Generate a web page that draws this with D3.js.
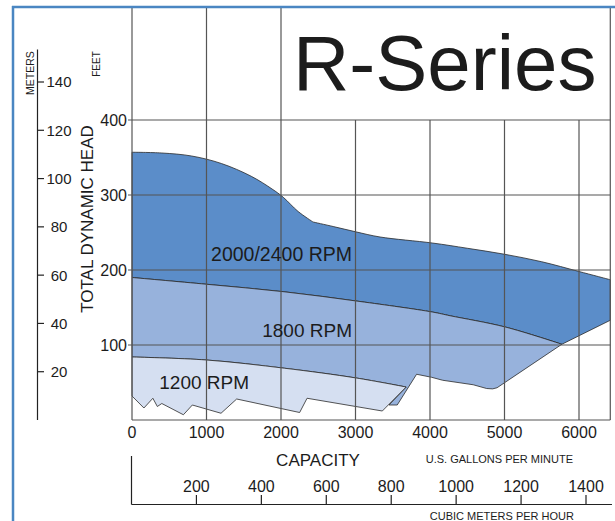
<!DOCTYPE html>
<html>
<head>
<meta charset="utf-8">
<script src="https://cdn.jsdelivr.net/npm/d3@7"></script>
<style>
  body { margin: 0; background: #fff; }
  text { font-family: "Liberation Sans", Arial, sans-serif; fill: #1c1c1c; }
</style>
</head>
<body>
<div id="chart"></div>
<script>
// tick values
const feetTicks = [100, 200, 300, 400];
const meterTicks = [20, 40, 60, 80, 100, 120, 140];
const gpmTicks = [0, 1000, 2000, 3000, 4000, 5000, 6000];
const m3hTicks = [200, 400, 600, 800, 1000, 1200, 1400];

// curves, [gpm, feet]
const top2400a = [[0, 357], [400, 356], [800, 352], [1200, 342], [1600, 325], [1880, 308],
  [2030, 297], [2230, 278], [2430, 264]];
const top2400b = [[2430, 264], [2700, 258], [3000, 251], [3330, 244],
  [4030, 236], [4500, 229], [5000, 221], [5500, 211], [6000, 198], [6420, 187]];
const end2400 = [[6420, 187], [6420, 133]];
const top1800 = [[0, 190], [1000, 181], [2040, 171], [3060, 158], [4030, 144], [4270, 139],
  [5010, 124], [5770, 101]];
const bottom1800 = [[5770, 101], [4900, 43], [4840, 41.5], [4760, 42], [4580, 47], [4170, 53], [4020, 57],
  [3820, 61], [3560, 20], [3450, 20]];
const top1200 = [[0, 84], [1000, 80], [2050, 69], [3010, 56], [3680, 44]];
const bottom1200 = [[3680, 44], [3360, 12], [2350, 29], [2250, 10], [1405, 28], [1195, 9], [810, 20],
  [690, 7], [400, 22], [340, 18], [280, 29], [160, 16], [0, 32]];

const bandNames = ["2000/2400 RPM", "1800 RPM", "1200 RPM"];
const bandColors = ["#5b8dc9", "#97b2dc", "#d5dff1"];

const capMax = 6420;
const headMax = 551;

const svg = d3.select("#chart").append("svg")
  .attr("width", 615)
  .attr("height", 521);

const x = d3.scaleLinear().domain([0, 6000]).range([132, 579]);
const y = d3.scaleLinear().domain([0, 400]).range([420, 120]);
const yM = d3.scaleLinear().domain([0, 140]).range([420, 82]);
const xM = d3.scaleLinear().domain([0, 1400]).range([131.5, 586]);

const line = d3.line().x(d => x(d[0])).y(d => y(d[1]));
const smooth = d3.line().x(d => x(d[0])).y(d => y(d[1])).curve(d3.curveCatmullRom.alpha(0.5));

// joins several pieces into one closed outline
function outline(pieces) {
  return pieces.map((p, i) => i === 0 ? p : p.replace(/^M/, "L")).join("") + "Z";
}

const rev = a => a.slice().reverse();

const bands = [
  outline([smooth(top2400a), smooth(top2400b), line(end2400), line([[6420, 133], [5770, 101]]), smooth(rev(top1800))]),
  outline([smooth(top1800), line(bottom1800), line([[3450, 20], [3680, 44]]), smooth(rev(top1200))]),
  outline([smooth(top1200), line(bottom1200)])
];

svg.selectAll("path.band")
  .data(bands)
  .enter()
  .append("path")
  .attr("class", "band")
  .attr("d", d => d)
  .attr("fill", (d, i) => bandColors[i])
  .attr("stroke", "#2a2a2a")
  .attr("stroke-width", 0.8)
  .attr("stroke-linejoin", "round");

// grid
const grid = svg.append("g").attr("stroke", "#555").attr("stroke-width", 1.2);

grid.selectAll("line.h")
  .data(feetTicks)
  .enter()
  .append("line")
  .attr("x1", x(0) - 4)
  .attr("x2", x(capMax))
  .attr("y1", d => y(d))
  .attr("y2", d => y(d));

// lines right of 2000 stop under the title box
grid.selectAll("line.v")
  .data(gpmTicks.slice(1))
  .enter()
  .append("line")
  .attr("x1", d => x(d))
  .attr("x2", d => x(d))
  .attr("y1", d => d <= 2000 ? y(headMax) : y(400))
  .attr("y2", y(0));

grid.append("line")
  .attr("x1", x(0)).attr("x2", x(0))
  .attr("y1", y(headMax)).attr("y2", y(0));
grid.append("line")
  .attr("x1", x(capMax)).attr("x2", x(capMax))
  .attr("y1", y(headMax)).attr("y2", y(0));
grid.append("line")
  .attr("x1", x(0)).attr("x2", x(capMax))
  .attr("y1", y(0)).attr("y2", y(0));

// band labels
svg.append("text")
  .attr("x", x(2953)).attr("y", y(212))
  .attr("text-anchor", "end").attr("font-size", "19.5px")
  .text(bandNames[0]);
svg.append("text")
  .attr("x", x(2953)).attr("y", y(111))
  .attr("text-anchor", "end").attr("font-size", "19px")
  .text(bandNames[1]);
svg.append("text")
  .attr("x", x(366)).attr("y", y(41))
  .attr("font-size", "19px")
  .text(bandNames[2]);

// feet axis
svg.selectAll("text.feet")
  .data(feetTicks)
  .enter()
  .append("text")
  .attr("x", 127)
  .attr("y", d => y(d))
  .attr("dy", "0.36em")
  .attr("text-anchor", "end")
  .attr("font-size", "16px")
  .text(d => d);

// meters axis
svg.append("line")
  .attr("x1", 37.5).attr("x2", 37.5)
  .attr("y1", yM(153.5)).attr("y2", yM(0))
  .attr("stroke", "#222").attr("stroke-width", 1.2);

svg.selectAll("line.mtick")
  .data(meterTicks)
  .enter()
  .append("line")
  .attr("x1", 37.5).attr("x2", 44)
  .attr("y1", d => yM(d)).attr("y2", d => yM(d))
  .attr("stroke", "#222").attr("stroke-width", 1.2);

svg.selectAll("text.meter")
  .data(meterTicks)
  .enter()
  .append("text")
  .attr("x", 59)
  .attr("y", d => yM(d))
  .attr("dy", "0.36em")
  .attr("text-anchor", "middle")
  .attr("font-size", "15px")
  .text(d => d);

svg.append("text")
  .attr("transform", "translate(33.5,73) rotate(-90)")
  .attr("text-anchor", "middle").attr("font-size", "10.5px")
  .text("METERS");
svg.append("text")
  .attr("transform", "translate(100,64) rotate(-90)")
  .attr("text-anchor", "middle").attr("font-size", "10px")
  .text("FEET");
svg.append("text")
  .attr("transform", "translate(93,219) rotate(-90)")
  .attr("text-anchor", "middle").attr("font-size", "17px")
  .text("TOTAL DYNAMIC HEAD");

// gpm axis labels
svg.selectAll("text.gpm")
  .data(gpmTicks)
  .enter()
  .append("text")
  .attr("x", d => x(d))
  .attr("y", 438)
  .attr("text-anchor", "middle")
  .attr("font-size", "16px")
  .text(d => d);

svg.append("text")
  .attr("x", 318).attr("y", 466)
  .attr("text-anchor", "middle").attr("font-size", "17px")
  .text("CAPACITY");
svg.append("text")
  .attr("x", 573).attr("y", 463)
  .attr("text-anchor", "end").attr("font-size", "11px")
  .text("U.S. GALLONS PER MINUTE");

// cubic meters axis
svg.append("line")
  .attr("x1", xM(0)).attr("x2", xM(0))
  .attr("y1", 456).attr("y2", 504.5)
  .attr("stroke", "#222").attr("stroke-width", 1.2);
svg.append("line")
  .attr("x1", xM(0)).attr("x2", xM(1480))
  .attr("y1", 504.5).attr("y2", 504.5)
  .attr("stroke", "#222").attr("stroke-width", 1.2);

svg.selectAll("line.m3tick")
  .data(m3hTicks)
  .enter()
  .append("line")
  .attr("x1", d => xM(d)).attr("x2", d => xM(d))
  .attr("y1", 495).attr("y2", 504.5)
  .attr("stroke", "#222").attr("stroke-width", 1.2);

svg.selectAll("text.m3h")
  .data(m3hTicks)
  .enter()
  .append("text")
  .attr("x", d => xM(d))
  .attr("y", 491.5)
  .attr("text-anchor", "middle")
  .attr("font-size", "16px")
  .text(d => d);

svg.append("text")
  .attr("x", 574).attr("y", 520)
  .attr("text-anchor", "end").attr("font-size", "11px")
  .text("CUBIC METERS PER HOUR");

// title
svg.append("text")
  .attr("x", 293).attr("y", 90)
  .attr("font-size", "78px")
  .attr("fill", "#111")
  .text("R-Series");

// outer frame
svg.append("line")
  .attr("x1", 12).attr("x2", 615).attr("y1", 7).attr("y2", 7)
  .attr("stroke", "#4a86c2").attr("stroke-width", 2.5);
svg.append("line")
  .attr("x1", 13).attr("x2", 13).attr("y1", 6).attr("y2", 521)
  .attr("stroke", "#4a86c2").attr("stroke-width", 2.5);
</script>
</body>
</html>
